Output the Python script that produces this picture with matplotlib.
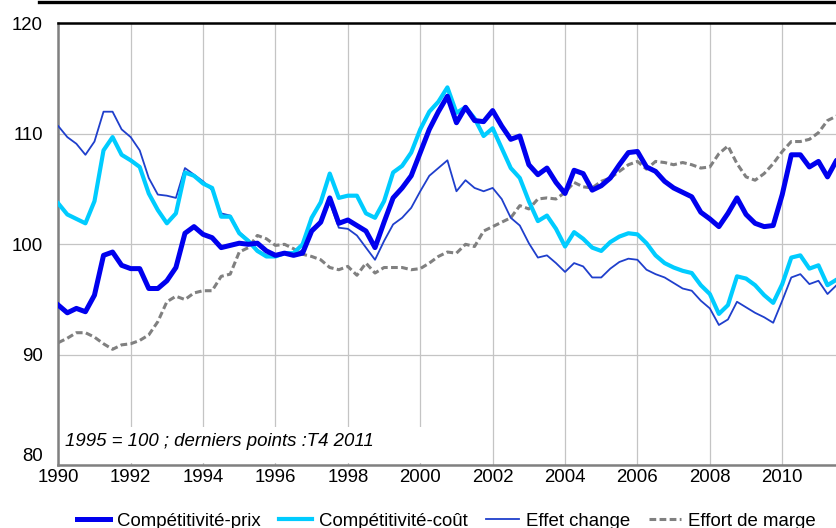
import numpy as np
import matplotlib
matplotlib.use("Agg")
import matplotlib.pyplot as plt
from matplotlib.patches import Rectangle
from matplotlib.lines import Line2D

plt.rcParams['font.family'] = ['Liberation Sans', 'DejaVu Sans']

# indices trimestriels, 1990T1 -> 2011T4 (1995 = 100)
start_year = 1990
prix = [94.5, 93.8, 94.2, 93.9, 95.4, 99.0, 99.3, 98.1,
        97.8, 97.8, 96.0, 96.0, 96.7, 97.9, 101.0, 101.6,
        100.9, 100.6, 99.7, 99.9, 100.1, 100.0, 100.1, 99.4,
        99.0, 99.2, 99.0, 99.2, 101.2, 102.0, 104.2, 101.9,
        102.2, 101.7, 101.2, 99.7, 102.0, 104.2, 105.1, 106.2,
        108.3, 110.4, 112.0, 113.4, 111.0, 112.4, 111.2, 111.1,
        112.1, 110.7, 109.5, 109.8, 107.2, 106.3, 106.9, 105.6,
        104.6, 106.7, 106.4, 104.9, 105.3, 106.0, 107.2, 108.3,
        108.4, 107.0, 106.6, 105.7, 105.1, 104.7, 104.3, 102.9,
        102.3, 101.6, 102.8, 104.2, 102.7, 101.9, 101.6, 101.7,
        104.5, 108.1, 108.1, 107.0, 107.5, 106.1, 107.6, 107.2]
cout = [103.7, 102.7, 102.3, 101.9, 103.9, 108.5, 109.7, 108.1,
        107.6, 107.0, 104.6, 103.1, 101.9, 102.8, 106.5, 106.2,
        105.5, 105.1, 102.5, 102.5, 101.0, 100.3, 99.4, 98.9,
        98.9, 99.2, 99.2, 100.0, 102.4, 103.8, 106.4, 104.2,
        104.4, 104.4, 102.8, 102.4, 103.9, 106.5, 107.1, 108.3,
        110.4, 112.0, 112.9, 114.2, 111.9, 112.4, 111.4, 109.8,
        110.5, 108.7, 106.9, 106.0, 103.9, 102.1, 102.6, 101.4,
        99.8, 101.1, 100.5, 99.7, 99.4, 100.2, 100.7, 101.0,
        100.9, 100.1, 99.0, 98.3, 97.9, 97.6, 97.4, 96.3,
        95.5, 93.7, 94.5, 97.1, 96.9, 96.3, 95.4, 94.7,
        96.4, 98.8, 99.0, 97.8, 98.1, 96.3, 96.8, 96.6]
change = [110.7, 109.7, 109.1, 108.1, 109.3, 112.0, 112.0, 110.4,
          109.7, 108.5, 106.0, 104.5, 104.4, 104.2, 106.9, 106.3,
          105.7, 104.9, 102.8, 102.6, 101.1, 100.4, 99.5, 99.0,
          99.0, 99.3, 99.0, 99.5, 101.4, 102.0, 103.8, 101.5,
          101.4, 100.8, 99.7, 98.6, 100.3, 101.8, 102.4, 103.3,
          104.8, 106.2, 106.9, 107.6, 104.8, 105.8, 105.1, 104.8,
          105.1, 104.1, 102.4, 101.7, 100.1, 98.8, 99.0, 98.3,
          97.5, 98.3, 98.0, 97.0, 97.0, 97.8, 98.4, 98.7,
          98.6, 97.7, 97.3, 97.0, 96.5, 96.0, 95.8, 94.9,
          94.2, 92.7, 93.2, 94.8, 94.3, 93.8, 93.4, 92.9,
          94.9, 97.0, 97.3, 96.4, 96.7, 95.5, 96.3, 96.0]
marge = [91.1, 91.5, 92.0, 92.0, 91.6, 91.0, 90.5, 90.9,
         91.0, 91.3, 91.8, 93.0, 94.8, 95.3, 95.0, 95.6,
         95.8, 95.8, 97.1, 97.3, 99.3, 99.7, 100.8, 100.5,
         99.9, 100.0, 99.6, 99.1, 98.9, 98.6, 97.9, 97.7,
         98.0, 97.2, 98.3, 97.4, 97.9, 97.9, 97.9, 97.7,
         97.8, 98.3, 98.9, 99.3, 99.2, 100.0, 99.8, 101.2,
         101.6, 102.0, 102.4, 103.5, 103.2, 104.1, 104.2, 104.1,
         104.7, 105.6, 105.2, 105.1, 105.7, 106.0, 106.6, 107.2,
         107.5, 106.8, 107.5, 107.4, 107.2, 107.4, 107.2, 106.9,
         107.0, 108.2, 108.9, 107.3, 106.1, 105.8, 106.4, 107.3,
         108.4, 109.3, 109.3, 109.5, 110.1, 111.2, 111.6, 112.0]

t = start_year + np.arange(len(prix)) / 4.0

fig = plt.figure(figsize=(8.36, 5.28), dpi=100)
ax = fig.add_axes([0.0697, 0.1187, 0.9526, 0.8372])

ax.plot(t, marge, color='#808080', lw=2.2, dashes=(2.2, 1.1), label='Effort de marge', zorder=2)
ax.plot(t, change, color='#1f3fcc', lw=1.3, label='Effet change', zorder=3)
ax.plot(t, cout, color='#00ccff', lw=3.0, label='Compétitivité-coût', zorder=4)
ax.plot(t, prix, color='#0000ee', lw=3.6, label='Compétitivité-prix', zorder=5)

ax.set_xlim(1990, 2012)
ax.set_ylim(80, 120)
ax.set_xticks(range(1990, 2011, 2))
ax.set_yticks(range(80, 121, 10))
ax.grid(True, color='#c4c4c4', lw=0.9)
ax.axvline(2012, color='#c4c4c4', lw=0.9, zorder=0.5)
ax.set_axisbelow(True)
ax.tick_params(length=0, labelsize=13.4)
ax.tick_params(axis='y', pad=11)
ax.tick_params(axis='x', pad=3)
# le 80 est remonte pour ne pas toucher le 1990
ax.yaxis.get_major_ticks()[0].label1.set_va('bottom')

for s in ['left', 'bottom']:
    ax.spines[s].set_color('#808080')
    ax.spines[s].set_linewidth(1.8)
ax.spines['top'].set_color('black')
ax.spines['top'].set_linewidth(1.8)
ax.spines['right'].set_visible(False)

# cartouche blanc derriere la note
ax.add_patch(Rectangle((1990.1, 80.25), 10.3, 3.2, facecolor='white',
                       edgecolor='none', zorder=1))
ax.text(1990.18, 82.2, '1995 = 100 ; derniers points :T4 2011', fontsize=13.4,
        style='italic', va='center', ha='left', zorder=6)

# trait noir du cadre du titre (coupe en haut)
fig.add_artist(Line2D([39 / 836, 1], [1 - 1.5 / 528, 1 - 1.5 / 528],
                      color='black', lw=2.4))

handles, labels = ax.get_legend_handles_labels()
order = [3, 2, 1, 0]
fig.legend([handles[i] for i in order], [labels[i] for i in order],
           ncol=4, loc='center left', bbox_to_anchor=(77 / 836, 1 - 521 / 528),
           frameon=False, fontsize=13.4, handlelength=1.76, handletextpad=0.37,
           columnspacing=1.0, borderpad=0, borderaxespad=0)

fig.savefig('out.png', dpi=100)
